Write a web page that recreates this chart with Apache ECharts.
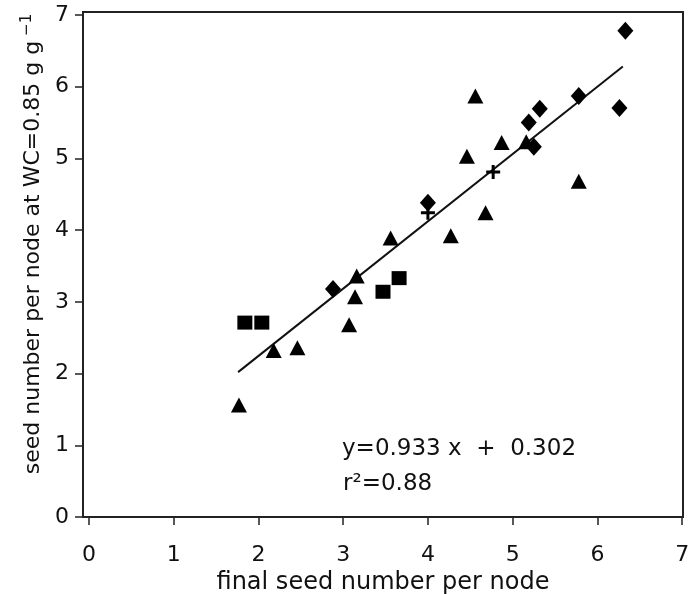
<!DOCTYPE html>
<html>
<head>
<meta charset="utf-8">
<script src="https://cdn.jsdelivr.net/npm/echarts@6/dist/echarts.min.js"></script>
<style>
html,body{margin:0;padding:0;background:#fff;}
#chart{width:689px;height:594px;}
</style>
</head>
<body>
<div id="chart"></div>
<script>
// ---- data ----
var diamondX = [6.33, 6.26, 5.78, 5.32, 5.19, 5.25, 4.00, 2.88];
var diamondY = [6.78, 5.70, 5.87, 5.69, 5.50, 5.16, 4.38, 3.18];

var triangleX = [4.56, 4.87, 4.46, 5.78, 4.68, 4.27, 3.56, 3.16, 3.14, 3.07, 2.18, 2.46, 1.77, 5.16];
var triangleY = [5.87, 5.22, 5.03, 4.68, 4.24, 3.92, 3.89, 3.36, 3.07, 2.68, 2.32, 2.36, 1.56, 5.23];

var squareX = [1.84, 2.04, 3.47, 3.66];
var squareY = [2.71, 2.71, 3.14, 3.33];

var plusX = [4.77, 4.00];
var plusY = [4.81, 4.24];

var fitX = [1.76, 6.30];
var fitY = [2.02, 6.28];

var xTicks = [0, 1, 2, 3, 4, 5, 6, 7];
var yTicks = [0, 1, 2, 3, 4, 5, 6, 7];

var xTitle = 'final seed number per node';
var eqLine1 = 'y=0.933 x  +  0.302';
var eqLine2 = 'r\u00B2=0.88';

function zip(a, b) { return a.map(function (v, i) { return [v, b[i]]; }); }

var FONT = 'DejaVu Sans';
var INK = '#111';

var chart = echarts.init(document.getElementById('chart'), null, {renderer: 'canvas'});
var option = {
  animation: false,
  backgroundColor: '#fff',
  grid: {left: 83, right: 6, top: 12, bottom: 77, outerBoundsMode: 'none', containLabel: false,
         show: true, borderColor: '#222', borderWidth: 2, backgroundColor: 'transparent'},
  xAxis: {
    type: 'value', min: -0.07, max: 7.01,
    axisLine: {show: true, onZero: false, lineStyle: {color: '#222', width: 2}},
    axisTick: {show: true, customValues: xTicks, length: 8, lineStyle: {color: '#222', width: 1.5}},
    axisLabel: {customValues: xTicks, margin: 27, fontSize: 22, fontFamily: FONT, color: INK},
    splitLine: {show: false},
    name: xTitle, nameLocation: 'middle', nameGap: 51,
    nameTextStyle: {fontSize: 24, fontFamily: FONT, color: INK}
  },
  yAxis: {
    type: 'value', min: 0, max: 7.04,
    axisLine: {show: true, onZero: false, lineStyle: {color: '#222', width: 2}},
    axisTick: {show: true, customValues: yTicks, length: 8, lineStyle: {color: '#222', width: 1.5}},
    axisLabel: {customValues: yTicks, margin: 14, fontSize: 22, fontFamily: FONT, color: INK},
    splitLine: {show: false}
  },
  graphic: [
    {
      type: 'text', x: 32, y: 244, rotation: Math.PI / 2,
      style: {
        text: '{m|seed number per node at WC=0.85 g g}{s|\u22121}',
        align: 'center', verticalAlign: 'middle',
        rich: {
          m: {fontSize: 22, fontFamily: FONT, fill: INK, verticalAlign: 'bottom'},
          s: {fontSize: 15, fontFamily: FONT, fill: INK, padding: [0, 0, 10, 5], verticalAlign: 'bottom'}
        }
      }
    },
    {
      type: 'text', x: 342, y: 449,
      style: {text: eqLine1, fontSize: 23, fontFamily: FONT, fill: INK, align: 'left', verticalAlign: 'middle'}
    },
    {
      type: 'text', x: 343, y: 484,
      style: {text: eqLine2, fontSize: 23, fontFamily: FONT, fill: INK, align: 'left', verticalAlign: 'middle'}
    }
  ],
  series: [
    {
      type: 'line', data: zip(fitX, fitY), symbol: 'none', silent: true,
      lineStyle: {color: '#111', width: 2}, z: 1
    },
    {
      type: 'scatter', data: zip(triangleX, triangleY), symbol: 'triangle', symbolSize: [16, 15],
      itemStyle: {color: '#000', opacity: 1}, z: 2
    },
    {
      type: 'scatter', data: zip(diamondX, diamondY), symbol: 'diamond', symbolSize: [16, 18],
      itemStyle: {color: '#000', opacity: 1}, z: 2
    },
    {
      type: 'scatter', data: zip(squareX, squareY), symbol: 'rect', symbolSize: [15, 14],
      itemStyle: {color: '#000', opacity: 1}, z: 2
    },
    {
      type: 'scatter', data: zip(plusX, plusY),
      symbol: 'path://M0,5.5H14V8.5H0Z M5.5,0H8.5V14H5.5Z', symbolSize: [14, 14], symbolKeepAspect: true,
      itemStyle: {color: '#000', opacity: 1}, z: 2
    }
  ]
};
chart.setOption(option);
</script>
</body>
</html>
